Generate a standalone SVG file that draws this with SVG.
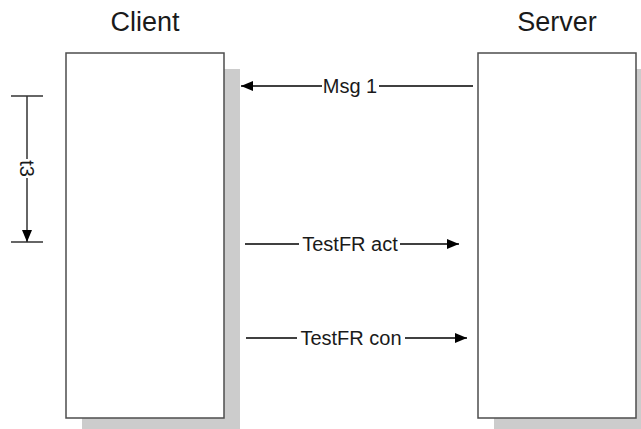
<svg xmlns="http://www.w3.org/2000/svg" width="641" height="429" viewBox="0 0 641 429">
<style>
.box{fill:#fff;stroke:#4d4d4d;stroke-width:1.5}
.shadow{fill:#cccccc}
.title{font-family:"Liberation Sans",Arial,sans-serif;font-size:27px;fill:#1a1a1a;text-anchor:middle}
.lbl{font-family:"Liberation Sans",Arial,sans-serif;font-size:20px;fill:#1a1a1a;text-anchor:middle}
.ln{stroke:#000;stroke-width:1.5;fill:none}
.dim{stroke:#333;stroke-width:1.5;fill:none}
</style>
<defs>
<marker id="ah" viewBox="0 0 12 10" refX="12" refY="5" markerWidth="12" markerHeight="10" markerUnits="userSpaceOnUse" orient="auto">
<path d="M0,0 L12,5 L0,10 Z" fill="#000"/>
</marker>
</defs>
<rect width="641" height="429" fill="#fff"/>
<g id="client">
<rect class="shadow" x="82" y="69" width="158" height="365"/>
<rect class="box" x="66" y="53" width="158" height="365"/>
<text class="title" x="145" y="31">Client</text>
</g>
<g id="server">
<rect class="shadow" x="494" y="69" width="158" height="365"/>
<rect class="box" x="478" y="53" width="158" height="365"/>
<text class="title" x="557" y="31">Server</text>
</g>
<g id="t3">
<line class="dim" x1="11" y1="96" x2="43" y2="96"/>
<line class="dim" x1="11" y1="242" x2="43" y2="242"/>
<line class="dim" x1="27" y1="96" x2="27" y2="159"/>
<line class="dim" x1="27" y1="178" x2="27" y2="242" marker-end="url(#ah)"/>
<text class="lbl" transform="translate(20,168.5) rotate(90)" text-anchor="middle">t3</text>
</g>
<g id="connectors">
<line class="ln" x1="473" y1="86" x2="379" y2="86"/>
<line class="ln" x1="322" y1="86" x2="241" y2="86" marker-end="url(#ah)"/>
<text class="lbl" x="350" y="93">Msg 1</text>
<line class="ln" x1="245" y1="244" x2="299" y2="244"/>
<line class="ln" x1="400" y1="244" x2="459" y2="244" marker-end="url(#ah)"/>
<text class="lbl" x="350" y="251">TestFR act</text>
<line class="ln" x1="246" y1="338" x2="297" y2="338"/>
<line class="ln" x1="405" y1="338" x2="467" y2="338" marker-end="url(#ah)"/>
<text class="lbl" x="351" y="345">TestFR con</text>
</g>
</svg>
